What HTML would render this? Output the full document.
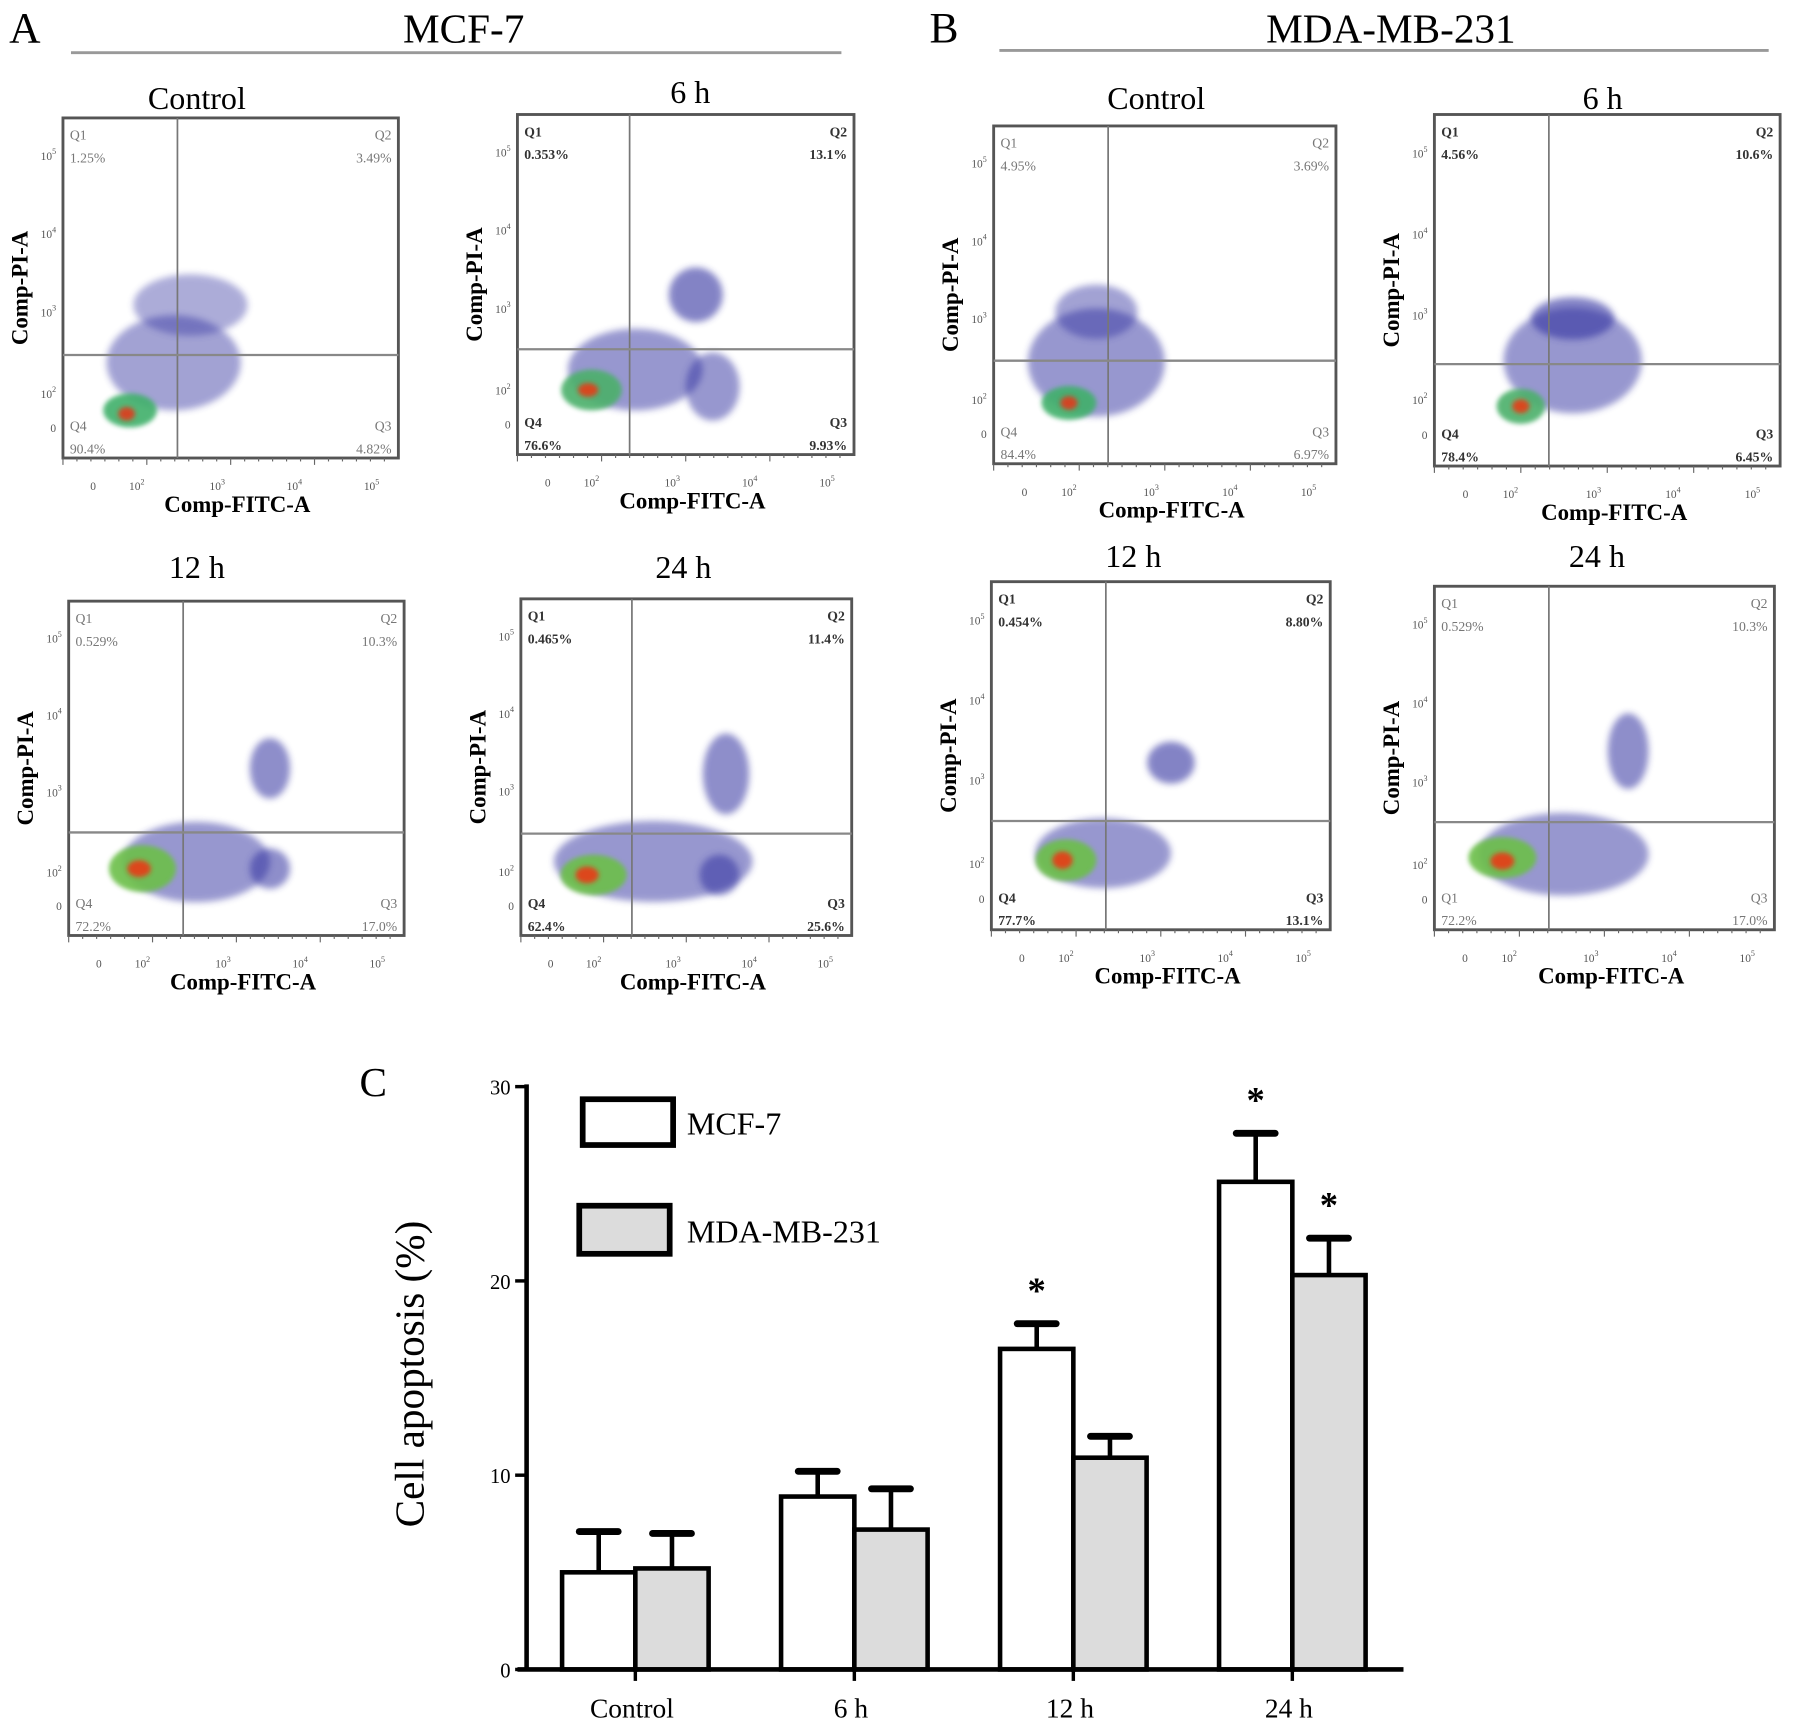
<!DOCTYPE html>
<html><head><meta charset="utf-8"><style>
html,body{margin:0;padding:0;background:#fff;}
svg{display:block;}
text{font-family:"Liberation Serif",serif;}
</style></head><body>
<svg id="fig" width="1795" height="1729" viewBox="0 0 1568 1510" preserveAspectRatio="none" xmlns="http://www.w3.org/2000/svg">
<defs>
<filter id="blur" x="-50%" y="-50%" width="200%" height="200%"><feGaussianBlur stdDeviation="3"/></filter>
<filter id="blur2" x="-50%" y="-50%" width="200%" height="200%"><feGaussianBlur stdDeviation="2"/></filter>
</defs>
<g>
<text x="8" y="37" font-size="38">A</text>
<text x="405" y="37" font-size="36" text-anchor="middle">MCF-7</text>
<line x1="62" y1="46" x2="735" y2="46" stroke="#999" stroke-width="2.5"/>
</g>
<g>
<text x="812" y="37" font-size="38">B</text>
<text x="1215" y="37" font-size="36" text-anchor="middle">MDA-MB-231</text>
<line x1="873" y1="44" x2="1545" y2="44" stroke="#999" stroke-width="2.5"/>
</g>
<g id="flows"></g>
<g id="bars"></g>
</svg>
<script>
const NS="http://www.w3.org/2000/svg";
function mk(tag,attrs,parent,txt){const e=document.createElementNS(NS,tag);for(const k in attrs)e.setAttribute(k,attrs[k]);if(txt!==undefined)e.textContent=txt;parent.appendChild(e);return e;}

// ---------- flow panels ----------
const panelTitles=["Control","6 h","12 h","24 h","Control","6 h","12 h","24 h"];
const panelBoxes=[[55,103,348,400],[452,100,746,397],[60,525,353,817],[455,523,744,817],[868,110,1167,405],[1253,100,1555,407],[866,508,1162,812],[1253,512,1550,812]];
const panelQuad=[[155,310],[550,305],[160,727],[552,728],[968,315],[1353,318],[966,717],[1353,718]];
const panelPct=[["1.25%","3.49%","90.4%","4.82%"],["0.353%","13.1%","76.6%","9.93%"],["0.529%","10.3%","72.2%","17.0%"],["0.465%","11.4%","62.4%","25.6%"],["4.95%","3.69%","84.4%","6.97%"],["4.56%","10.6%","78.4%","6.45%"],["0.454%","8.80%","77.7%","13.1%"],["0.529%","10.3%","72.2%","17.0%"]];
const panelBold=[false,true,false,true,false,true,true,false];
const titlePos=[[172,85],[603,80],[172,495],[597,495],[1010,85],[1400,85],[990,485],[1395,485]];
// blobs: [fx,fy,rx,ry,color,opacity]
const panelBlobs=[
 [[.33,.72,.2,.14,"#3030a0",.45],[.38,.55,.17,.09,"#3030a0",.4],[.2,.86,.08,.05,"#3fb06a",.9],[.19,.87,.025,.02,"#e03a1a",.9]],
 [[.35,.75,.2,.12,"#3030a0",.5],[.53,.53,.08,.08,"#3030a0",.6],[.58,.8,.08,.1,"#3030a0",.5],[.22,.81,.09,.06,"#4cb06a",.9],[.21,.81,.03,.02,"#e53c18",.9]],
 [[.38,.78,.22,.12,"#3030a0",.5],[.6,.5,.06,.09,"#3030a0",.55],[.6,.8,.06,.06,"#3030a0",.55],[.22,.8,.1,.07,"#6cbf4a",.9],[.21,.8,.035,.025,"#e83a18",.9]],
 [[.4,.78,.3,.12,"#3030a0",.5],[.62,.52,.07,.12,"#3030a0",.55],[.6,.82,.06,.06,"#3030a0",.55],[.22,.82,.1,.06,"#6cbf4a",.9],[.2,.82,.035,.025,"#e83a18",.9]],
 [[.3,.7,.2,.16,"#3030a0",.5],[.3,.55,.12,.08,"#3030a0",.45],[.22,.82,.08,.05,"#3fb06a",.9],[.22,.82,.025,.02,"#e03a1a",.9]],
 [[.4,.7,.2,.15,"#3030a0",.5],[.4,.58,.12,.06,"#3030a0",.6],[.25,.83,.07,.05,"#4cb06a",.9],[.25,.83,.025,.02,"#e53c18",.9]],
 [[.33,.78,.2,.1,"#3030a0",.5],[.53,.52,.07,.06,"#3030a0",.6],[.22,.8,.09,.06,"#6cbf4a",.9],[.21,.8,.03,.025,"#e83a18",.9]],
 [[.38,.78,.25,.12,"#3030a0",.5],[.57,.48,.06,.11,"#3030a0",.55],[.2,.79,.1,.06,"#6cbf4a",.9],[.2,.8,.035,.025,"#e83a18",.9]]
];
const yTicks=["10","10","10","10","0"], yExp=["5","4","3","2",""];
const xTicks=["0","10","10","10","10"], xExp=["","2","3","4","5"];
const flows=document.getElementById('flows');
panelBoxes.forEach((b,i)=>{
  const [x0,y0,x1,y1]=b, w=x1-x0, h=y1-y0;
  const g=mk('g',{},flows);
  
  
  const t=mk('text',{x:titlePos[i][0],y:titlePos[i][1]+10,"font-size":28,"text-anchor":"middle"},g,panelTitles[i]);
  
  
  panelBlobs[i].forEach(bl=>{
    const e=mk('ellipse',{cx:x0+bl[0]*w,cy:y0+bl[1]*h,rx:bl[2]*w,ry:bl[3]*h,fill:bl[4],opacity:bl[5],filter:bl[4]=="#3030a0"?"url(#blur)":"url(#blur2)"},g);
    
    
  });
  mk('rect',{x:x0,y:y0,width:w,height:h,fill:"none",stroke:"#555","stroke-width":2.5},g);
  mk('line',{x1:panelQuad[i][0],y1:y0,x2:panelQuad[i][0],y2:y1,stroke:"#777","stroke-width":1.5},g);
  mk('line',{x1:x0,y1:panelQuad[i][1],x2:x1,y2:panelQuad[i][1],stroke:"#888","stroke-width":2},g);
  const fw=panelBold[i]?"bold":"normal", col=panelBold[i]?"#333":"#777";
  const q=panelPct[i];
  const qt=(tx,ty,s,anc)=>mk('text',{x:tx,y:ty,"font-size":12,"font-family":"Liberation Sans","font-weight":fw,fill:col,"text-anchor":anc},g,s);
  qt(x0+6,y0+19,"Q1","start");qt(x0+6,y0+39,q[0],"start");
  qt(x1-6,y0+19,"Q2","end");qt(x1-6,y0+39,q[1],"end");
  qt(x0+6,y1-24,i==7?"Q1":"Q4","start");qt(x0+6,y1-4,q[2],"start");
  qt(x1-6,y1-24,"Q3","end");qt(x1-6,y1-4,q[3],"end");
  const yfr=[.11,.34,.57,.81,.91];
  yTicks.forEach((s,k)=>{const yy=y0+yfr[k]*h;
    const tt=mk('text',{x:x0-6,y:yy+4,"font-size":10,"font-family":"Liberation Sans",fill:"#555","text-anchor":"end"},g,s);
    if(yExp[k]) mk('tspan',{dy:-5,"font-size":7},tt,yExp[k]);});
  const xfr=[.09,.22,.46,.69,.92];
  xTicks.forEach((s,k)=>{const xx=x0+xfr[k]*w;
    const tt=mk('text',{x:xx,y:y1+28,"font-size":10,"font-family":"Liberation Sans",fill:"#555","text-anchor":"middle"},g,s);
    if(xExp[k]) mk('tspan',{dy:-5,"font-size":7},tt,xExp[k]);});
  for(let k=0;k<24;k++){mk('line',{x1:x0+k*w/24,y1:y1,x2:x0+k*w/24,y2:y1+(k%6==0?6:3),stroke:"#666","stroke-width":1},g);}
  const xl=mk('text',{x:x0+w*0.52,y:y1+47,"font-size":20,"font-weight":"bold","text-anchor":"middle"},g,"Comp-FITC-A");
  
  
  const yl=mk('text',{x:0,y:0,"font-size":20,"font-weight":"bold","text-anchor":"middle",transform:`translate(${x0-31},${y0+h*0.5}) rotate(-90)`},g,"Comp-PI-A");
  
  
});

// ---------- bar chart C ----------
const categories=["Control","6 h","12 h","24 h"];
const mcf7Values=[5.0,8.9,16.5,25.1];
const mcf7Err=[2.1,1.3,1.3,2.5];
const mdaValues=[5.2,7.2,10.9,20.3];
const mdaErr=[1.8,2.1,1.1,1.9];
const mcf7Sig=[false,false,true,true];
const mdaSig=[false,false,false,true];
const yTickVals=[0,10,20,30];

const bars=document.getElementById('bars');
const axX=460, axY0=1458, yMax=30, yTop=949;
const yS=v=>axY0-(v/yMax)*(axY0-yTop);
const catX=i=>555+i*191.3;
const bw=64;
const bt=mk('text',{x:314,y:957,"font-size":36},bars,"C");


const yt=mk('text',{x:0,y:0,"font-size":36,"text-anchor":"middle",transform:"translate(370,1200) rotate(-90)"},bars,"Cell apoptosis (%)");


function bar(cx,v,e,fill,name,sig){
  const top=yS(v), et=yS(v+e);
  const g=mk('g',{},bars);
  
  
  mk('line',{x1:cx,y1:top,x2:cx,y2:et,stroke:"#000","stroke-width":4},g);
  mk('line',{x1:cx-17,y1:et,x2:cx+17,y2:et,stroke:"#000","stroke-width":6,"stroke-linecap":"round"},g);
  mk('rect',{x:cx-bw/2,y:top,width:bw,height:axY0-top,fill:fill,stroke:"#000","stroke-width":4},g);
  if(sig){const s=mk('text',{x:cx,y:et-18,"font-size":32,"font-family":"Liberation Sans","font-weight":"bold","text-anchor":"middle"},g,"*");
    
    }
}
categories.forEach((c,i)=>{
  bar(catX(i)-bw/2,mcf7Values[i],mcf7Err[i],"#fff","bar-mcf7-"+i,mcf7Sig[i]);
  bar(catX(i)+bw/2,mdaValues[i],mdaErr[i],"#dcdcdc","bar-mda-"+i,mdaSig[i]);
  mk('line',{x1:catX(i),y1:axY0,x2:catX(i),y2:axY0+10,stroke:"#000","stroke-width":3},bars);
  const lt=mk('text',{x:catX(i)-3,y:axY0+42,"font-size":24,"text-anchor":"middle"},bars,c);
  
  
});
mk('line',{x1:axX,y1:yTop-2,x2:axX,y2:axY0,stroke:"#000","stroke-width":4},bars);
mk('line',{x1:axX-8,y1:axY0,x2:1226,y2:axY0,stroke:"#000","stroke-width":4},bars);
yTickVals.forEach(v=>{
  mk('line',{x1:axX-10,y1:yS(v),x2:axX,y2:yS(v),stroke:"#000","stroke-width":3},bars);
  const tt=mk('text',{x:axX-14,y:yS(v)+7,"font-size":18,"text-anchor":"end"},bars,String(v));
  
  
});
const lg=mk('g',{},bars);


mk('rect',{x:509,y:960,width:79,height:40,fill:"#fff",stroke:"#000","stroke-width":5},lg);
mk('text',{x:600,y:991,"font-size":28},lg,"MCF-7");
mk('rect',{x:506,y:1053,width:79,height:42,fill:"#dcdcdc",stroke:"#000","stroke-width":5},lg);
mk('text',{x:600,y:1085,"font-size":28},lg,"MDA-MB-231");
</script>
</body></html>
